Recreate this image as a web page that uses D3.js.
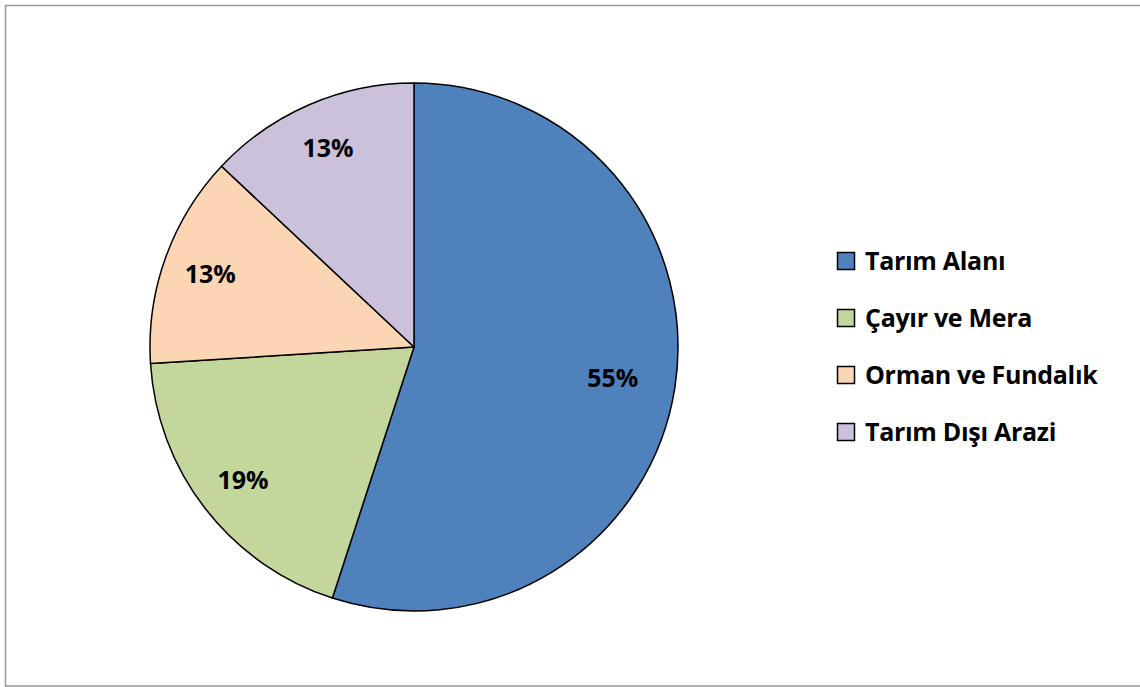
<!DOCTYPE html>
<html>
<head>
<meta charset="utf-8">
<script src="https://cdn.jsdelivr.net/npm/d3@7"></script>
<style>
  body { margin: 0; background: #fff; }
  svg { display: block; font-family: 'Open Sans', Lato, sans-serif; font-weight: bold; }
</style>
</head>
<body>
<div id="chart"></div>
<script>
const categories = ['Tarım Alanı', 'Çayır ve Mera', 'Orman ve Fundalık', 'Tarım Dışı Arazi'];
const shares = [55, 19, 13, 13];
const colors = ['#4F81BD', '#C3D69B', '#FCD5B5', '#CCC1DA'];

const WIDTH = 1140;
const HEIGHT = 687;
const centerX = 414;
const centerY = 347;
const radius = 264;

const svg = d3.create('svg').attr('width', WIDTH).attr('height', HEIGHT);

svg
  .append('rect')
  .attr('x', 5.5)
  .attr('y', 5.5)
  .attr('width', WIDTH + 10)
  .attr('height', 680.5)
  .attr('fill', 'none')
  .attr('stroke', '#999')
  .attr('stroke-width', 1.5);

const data = categories.map((name, index) => ({ name, value: shares[index], color: colors[index] }));

const pie = d3.pie().value((d) => d.value).sort(null);
const arc = d3.arc().innerRadius(0).outerRadius(radius);
const labelArc = d3.arc().innerRadius(radius * 0.82).outerRadius(radius * 0.82);

const pieGroup = svg.append('g').attr('transform', `translate(${centerX}, ${centerY})`);

const slices = pie(data);

pieGroup
  .selectAll('path')
  .data(slices)
  .join('path')
  .attr('d', arc)
  .style('fill', (d) => d.data.color)
  .style('stroke', '#000')
  .style('stroke-width', 1.5)
  .style('stroke-linejoin', 'round');

// Excel nudges the big slice's label inward a bit
const labelPos = (d) => {
  const [x, y] = labelArc.centroid(d);
  const k = d.data.value > 50 ? 0.93 : 1;
  return [x * k, y * k];
};

pieGroup
  .selectAll('text')
  .data(slices)
  .join('text')
  .attr('transform', (d) => `translate(${labelPos(d)})`)
  .attr('text-anchor', 'middle')
  .attr('dy', '0.36em')
  .style('font-size', '25px')
  .text((d) => `${d.data.value}%`);

const legendY = d3.scalePoint().domain(categories).range([261, 432]);

const legend = svg.append('g').attr('id', 'legend');

const rows = legend
  .selectAll('g')
  .data(data)
  .join('g')
  .attr('transform', (d) => `translate(837, ${legendY(d.name)})`);

rows
  .append('rect')
  .attr('x', 0.5)
  .attr('y', -8.5)
  .attr('width', 17)
  .attr('height', 17)
  .style('fill', (d) => d.color)
  .style('stroke', '#000')
  .style('stroke-width', 1.5);

rows
  .append('text')
  .attr('x', 28)
  .attr('dy', '0.36em')
  .style('font-size', '25px')
  .style('letter-spacing', '-0.3px')
  .text((d) => d.name);

document.getElementById('chart').appendChild(svg.node());
</script>
</body>
</html>
